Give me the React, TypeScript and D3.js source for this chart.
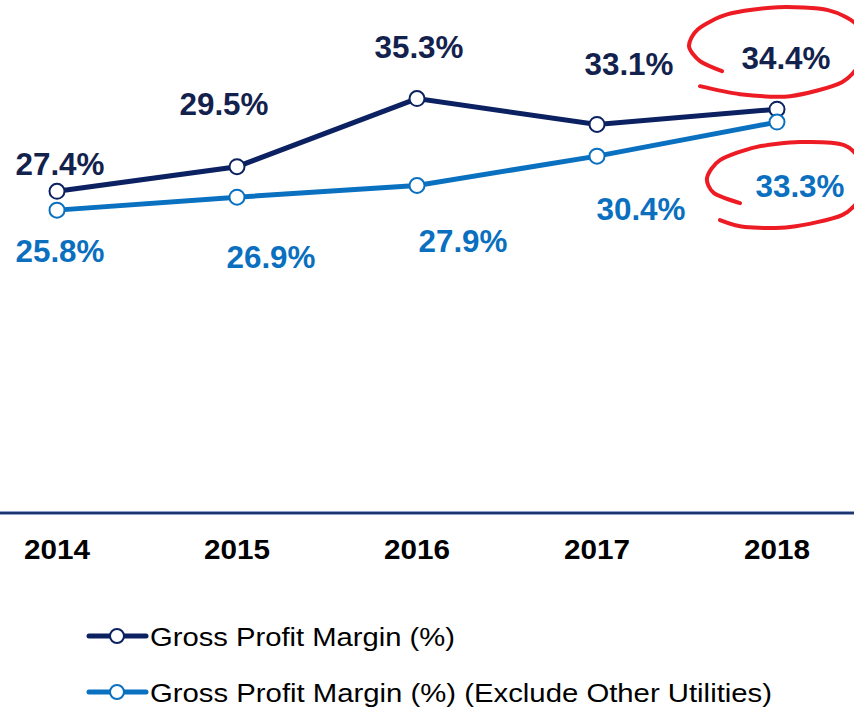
import React from "react";
import * as d3 from "d3";

const years = ["2014", "2015", "2016", "2017", "2018"];
const grossMargin = [27.4, 29.5, 35.3, 33.1, 34.4];
const grossMarginExOther = [25.8, 26.9, 27.9, 30.4, 33.3];
const seriesNames = [
  "Gross Profit Margin (%)",
  "Gross Profit Margin (%) (Exclude Other Utilities)",
];

// label placement (layout, px offsets from each point)
const darkLabelDx = [3, -13, 2, 32, 9];
const darkLabelDy = [-16, -52, -41, -49, -40];
const lightLabelDx = [3, 34, 46, 44, 23];
const lightLabelDy = [52, 71, 67, 64, 75];

const W = 854;
const H = 708;
const DARK = "#0b2161";
const LIGHT = "#0a70c0";
const DARK_TXT = "#13224d";
const LIGHT_TXT = "#0b6fbf";
const RED = "#ec1b24";

// hand-drawn ring shapes (relative to the label centre)
const ring1: [number, number][] = [
  [-64, 13], [-86, 3], [-97, -12], [-88, -29], [-58, -44], [-8, -51],
  [42, -48], [72, -32], [76, 0], [56, 24], [4, 38], [-46, 36], [-86, 28],
];
const ring2: [number, number][] = [
  [-60, 17], [-86, 7], [-93, -8], [-80, -26], [-44, -39], [0, -44],
  [44, -41], [62, -22], [62, 8], [42, 29], [-10, 41], [-55, 41], [-80, 34],
];

export default function App() {
  const x = d3.scalePoint<string>().domain(years).range([57, 777]);
  const y = d3.scaleLinear().domain([0, 43.7]).range([513, 0]);
  const line = d3
    .line<number>()
    .x((_, i) => x(years[i]) as number)
    .y((d) => y(d));
  const ringLine = d3
    .line<[number, number]>()
    .x((d) => d[0])
    .y((d) => d[1])
    .curve(d3.curveCardinal.tension(0.2));

  const font = "'Liberation Sans', Arial, Helvetica, sans-serif";

  const series = [
    { values: grossMargin, color: DARK },
    { values: grossMarginExOther, color: LIGHT },
  ];

  const lastX = x(years[4]) as number;
  const c1x = lastX + darkLabelDx[4];
  const c1y = y(grossMargin[4]) + darkLabelDy[4] - 11;
  const c2x = lastX + lightLabelDx[4];
  const c2y = y(grossMarginExOther[4]) + lightLabelDy[4] - 11;

  const r1 = ring1.map(([dx, dy]) => [c1x + dx, c1y + dy] as [number, number]);
  const r2 = ring2.map(([dx, dy]) => [c2x + dx, c2y + dy] as [number, number]);

  return (
    <svg
      width={W}
      height={H}
      style={{ position: "absolute", left: 0, top: 0, background: "#fff" }}
      fontFamily={font}
    >
      {/* axis line */}
      <line x1={0} x2={W} y1={y(0) - 1.5} y2={y(0) - 1.5} stroke="#8fa3c8" strokeWidth={1} />
      <line x1={0} x2={W} y1={y(0)} y2={y(0)} stroke="#1c3470" strokeWidth={2} />
      <line x1={0} x2={W} y1={y(0) + 1.5} y2={y(0) + 1.5} stroke="#8fa3c8" strokeWidth={1} />
      {years.map((yr) => (
        <text
          key={yr}
          x={x(yr)}
          y={559}
          textAnchor="middle"
          fontSize={28}
          fontWeight="bold"
          fill="#000"
          textLength={66}
          lengthAdjust="spacingAndGlyphs"
        >
          {yr}
        </text>
      ))}

      {series.map((s, si) => (
        <g key={si}>
          <path d={line(s.values) || ""} fill="none" stroke={s.color} strokeWidth={5} />
          {s.values.map((v, i) => (
            <circle
              key={i}
              cx={x(years[i])}
              cy={y(v)}
              r={7.5}
              fill="#fff"
              stroke={s.color}
              strokeWidth={2}
            />
          ))}
        </g>
      ))}

      {grossMargin.map((v, i) => (
        <text
          key={"d" + i}
          x={(x(years[i]) as number) + darkLabelDx[i]}
          y={y(v) + darkLabelDy[i]}
          textAnchor="middle"
          fontSize={31}
          fontWeight="bold"
          fill={DARK_TXT}
          textLength={89}
          lengthAdjust="spacingAndGlyphs"
        >
          {v.toFixed(1)}%
        </text>
      ))}
      {grossMarginExOther.map((v, i) => (
        <text
          key={"l" + i}
          x={(x(years[i]) as number) + lightLabelDx[i]}
          y={y(v) + lightLabelDy[i]}
          textAnchor="middle"
          fontSize={31}
          fontWeight="bold"
          fill={LIGHT_TXT}
          textLength={89}
          lengthAdjust="spacingAndGlyphs"
        >
          {v.toFixed(1)}%
        </text>
      ))}

      {/* red annotation rings */}
      <path d={ringLine(r1) || ""} fill="none" stroke={RED} strokeWidth={4} strokeLinecap="round" />
      <path d={ringLine(r2) || ""} fill="none" stroke={RED} strokeWidth={4} strokeLinecap="round" />

      {/* legend */}
      {seriesNames.map((name, i) => {
        const ly = 636 + i * 56;
        const col = i === 0 ? DARK : LIGHT;
        return (
          <g key={name}>
            <line x1={89} x2={146} y1={ly} y2={ly} stroke={col} strokeWidth={5} strokeLinecap="round" />
            <circle cx={117} cy={ly} r={7} fill="#fff" stroke={col} strokeWidth={2} />
            <text
              x={150}
              y={ly + 10}
              fontSize={26}
              fill="#000"
              textLength={i === 0 ? 305 : 622}
              lengthAdjust="spacingAndGlyphs"
            >
              {name}
            </text>
          </g>
        );
      })}
    </svg>
  );
}
